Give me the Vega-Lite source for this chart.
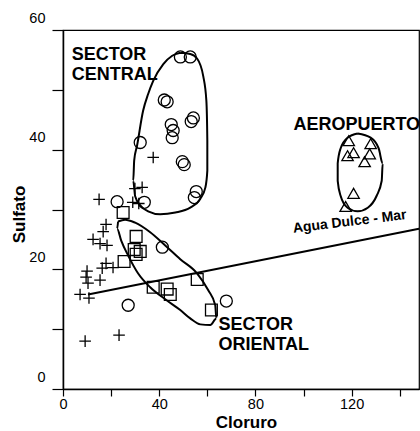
{
  "$schema": "https://vega.github.io/schema/vega-lite/v6.json",
  "width": 356,
  "height": 359,
  "autosize": {"type": "none"},
  "padding": {"left": 63, "top": 30, "right": 1, "bottom": 42},
  "background": "white",
  "config": {
    "view": {"stroke": "#000", "strokeWidth": 1.2},
    "font": "Liberation Sans",
    "axis": {
      "grid": false,
      "domainColor": "#000",
      "domainWidth": 1.5,
      "tickColor": "#000",
      "tickWidth": 1.2,
      "labelColor": "#000",
      "labelFont": "Liberation Sans",
      "labelFontSize": 14.5,
      "labelFlush": false,
      "labelOverlap": false,
      "titleColor": "#000",
      "titleFont": "Liberation Sans",
      "titleFontSize": 17,
      "titleFontWeight": "bold"
    }
  },
  "datasets": {
    "pts": [
      {"g": "circle", "x": 48.8, "y": 55.5},
      {"g": "circle", "x": 52.9, "y": 55.5},
      {"g": "circle", "x": 42.1, "y": 48.3},
      {"g": "circle", "x": 43.3, "y": 48.0},
      {"g": "circle", "x": 54.2, "y": 45.3},
      {"g": "circle", "x": 53.3, "y": 44.7},
      {"g": "circle", "x": 45.0, "y": 44.2},
      {"g": "circle", "x": 45.8, "y": 43.2},
      {"g": "circle", "x": 45.4, "y": 42.0},
      {"g": "circle", "x": 32.1, "y": 41.2},
      {"g": "circle", "x": 49.6, "y": 38.0},
      {"g": "circle", "x": 50.4, "y": 37.5},
      {"g": "circle", "x": 55.4, "y": 33.0},
      {"g": "circle", "x": 54.6, "y": 32.0},
      {"g": "circle", "x": 22.5, "y": 31.3},
      {"g": "circle", "x": 33.8, "y": 31.2},
      {"g": "circle", "x": 41.3, "y": 23.7},
      {"g": "circle", "x": 27.1, "y": 14.0},
      {"g": "circle", "x": 67.9, "y": 14.7},
      {"g": "square", "x": 25.0, "y": 29.5},
      {"g": "square", "x": 30.4, "y": 25.5},
      {"g": "square", "x": 29.6, "y": 23.3},
      {"g": "square", "x": 32.1, "y": 23.0},
      {"g": "square", "x": 30.4, "y": 22.5},
      {"g": "square", "x": 25.4, "y": 21.3},
      {"g": "square", "x": 37.5, "y": 17.0},
      {"g": "square", "x": 43.3, "y": 16.7},
      {"g": "square", "x": 44.6, "y": 15.8},
      {"g": "square", "x": 55.8, "y": 18.3},
      {"g": "square", "x": 61.7, "y": 13.2},
      {"g": "plus", "x": 37.5, "y": 38.7},
      {"g": "plus", "x": 29.9, "y": 33.5},
      {"g": "plus", "x": 32.9, "y": 33.7},
      {"g": "plus", "x": 29.0, "y": 31.2},
      {"g": "plus", "x": 15.0, "y": 31.7},
      {"g": "plus", "x": 31.5, "y": 31.0},
      {"g": "plus", "x": 17.9, "y": 27.5},
      {"g": "plus", "x": 16.7, "y": 26.3},
      {"g": "plus", "x": 12.5, "y": 25.0},
      {"g": "plus", "x": 15.4, "y": 24.3},
      {"g": "plus", "x": 18.3, "y": 24.0},
      {"g": "plus", "x": 17.9, "y": 21.0},
      {"g": "plus", "x": 20.8, "y": 20.3},
      {"g": "plus", "x": 16.3, "y": 20.2},
      {"g": "plus", "x": 10.0, "y": 19.7},
      {"g": "plus", "x": 9.6, "y": 18.7},
      {"g": "plus", "x": 10.4, "y": 17.7},
      {"g": "plus", "x": 15.4, "y": 18.2},
      {"g": "plus", "x": 7.1, "y": 15.8},
      {"g": "plus", "x": 10.8, "y": 15.2},
      {"g": "plus", "x": 9.2, "y": 8.0},
      {"g": "plus", "x": 23.3, "y": 9.0},
      {"g": "triangle", "x": 118.8, "y": 41.5},
      {"g": "triangle", "x": 127.9, "y": 41.0},
      {"g": "triangle", "x": 120.8, "y": 39.5},
      {"g": "triangle", "x": 118.3, "y": 39.0},
      {"g": "triangle", "x": 127.5, "y": 39.3},
      {"g": "triangle", "x": 125.4, "y": 38.0},
      {"g": "triangle", "x": 120.8, "y": 32.7},
      {"g": "triangle", "x": 117.5, "y": 30.5}
    ],
    "outlines": [
      {"grp": "central", "o": 0, "x": 48.75, "y": 56.2},
      {"grp": "central", "o": 1, "x": 52.9, "y": 56.0},
      {"grp": "central", "o": 2, "x": 55.8, "y": 55.2},
      {"grp": "central", "o": 3, "x": 58.3, "y": 52.3},
      {"grp": "central", "o": 4, "x": 59.6, "y": 48.2},
      {"grp": "central", "o": 5, "x": 60.0, "y": 41.5},
      {"grp": "central", "o": 6, "x": 60.0, "y": 36.5},
      {"grp": "central", "o": 7, "x": 59.2, "y": 33.7},
      {"grp": "central", "o": 8, "x": 57.1, "y": 31.8},
      {"grp": "central", "o": 9, "x": 52.9, "y": 30.3},
      {"grp": "central", "o": 10, "x": 46.7, "y": 29.5},
      {"grp": "central", "o": 11, "x": 40.4, "y": 29.2},
      {"grp": "central", "o": 12, "x": 35.4, "y": 29.7},
      {"grp": "central", "o": 13, "x": 32.1, "y": 30.7},
      {"grp": "central", "o": 14, "x": 30.0, "y": 32.2},
      {"grp": "central", "o": 15, "x": 29.2, "y": 34.8},
      {"grp": "central", "o": 16, "x": 29.6, "y": 38.2},
      {"grp": "central", "o": 17, "x": 30.8, "y": 40.7},
      {"grp": "central", "o": 18, "x": 33.3, "y": 46.5},
      {"grp": "central", "o": 19, "x": 35.4, "y": 49.3},
      {"grp": "central", "o": 20, "x": 37.5, "y": 51.5},
      {"grp": "central", "o": 21, "x": 41.7, "y": 54.3},
      {"grp": "central", "o": 22, "x": 45.4, "y": 55.7},
      {"grp": "central", "o": 23, "x": 48.75, "y": 56.2},
      {"grp": "oriental", "o": 0, "x": 22.9, "y": 28.0},
      {"grp": "oriental", "o": 1, "x": 25.8, "y": 28.3},
      {"grp": "oriental", "o": 2, "x": 30.0, "y": 27.8},
      {"grp": "oriental", "o": 3, "x": 36.25, "y": 26.2},
      {"grp": "oriental", "o": 4, "x": 42.5, "y": 24.0},
      {"grp": "oriental", "o": 5, "x": 48.75, "y": 21.7},
      {"grp": "oriental", "o": 6, "x": 55.8, "y": 19.3},
      {"grp": "oriental", "o": 7, "x": 60.4, "y": 16.5},
      {"grp": "oriental", "o": 8, "x": 63.3, "y": 14.0},
      {"grp": "oriental", "o": 9, "x": 63.75, "y": 11.8},
      {"grp": "oriental", "o": 10, "x": 61.25, "y": 10.7},
      {"grp": "oriental", "o": 11, "x": 57.1, "y": 10.8},
      {"grp": "oriental", "o": 12, "x": 52.9, "y": 11.8},
      {"grp": "oriental", "o": 13, "x": 48.75, "y": 13.2},
      {"grp": "oriental", "o": 14, "x": 42.5, "y": 15.0},
      {"grp": "oriental", "o": 15, "x": 36.25, "y": 17.0},
      {"grp": "oriental", "o": 16, "x": 31.25, "y": 19.3},
      {"grp": "oriental", "o": 17, "x": 27.1, "y": 22.3},
      {"grp": "oriental", "o": 18, "x": 24.2, "y": 24.8},
      {"grp": "oriental", "o": 19, "x": 22.5, "y": 26.8},
      {"grp": "oriental", "o": 20, "x": 22.9, "y": 28.0},
      {"grp": "aero", "o": 0, "x": 122.5, "y": 42.7},
      {"grp": "aero", "o": 1, "x": 127.9, "y": 42.0},
      {"grp": "aero", "o": 2, "x": 131.25, "y": 40.2},
      {"grp": "aero", "o": 3, "x": 132.9, "y": 37.7},
      {"grp": "aero", "o": 4, "x": 132.5, "y": 34.8},
      {"grp": "aero", "o": 5, "x": 130.4, "y": 32.3},
      {"grp": "aero", "o": 6, "x": 126.7, "y": 30.3},
      {"grp": "aero", "o": 7, "x": 122.5, "y": 29.7},
      {"grp": "aero", "o": 8, "x": 118.3, "y": 30.3},
      {"grp": "aero", "o": 9, "x": 115.4, "y": 32.3},
      {"grp": "aero", "o": 10, "x": 114.2, "y": 34.8},
      {"grp": "aero", "o": 11, "x": 114.2, "y": 37.7},
      {"grp": "aero", "o": 12, "x": 115.4, "y": 40.2},
      {"grp": "aero", "o": 13, "x": 118.3, "y": 42.0},
      {"grp": "aero", "o": 14, "x": 122.5, "y": 42.7},
      {"grp": "mix", "o": 0, "x": 10.4, "y": 15.8},
      {"grp": "mix", "o": 1, "x": 148, "y": 26.8}
    ],
    "labels": [
      {"t": ["SECTOR", "CENTRAL"], "x": 3.6, "y": 57.4},
      {"t": ["AEROPUERTO"], "x": 95.8, "y": 45.6},
      {"t": ["SECTOR", "ORIENTAL"], "x": 64.6, "y": 12.2}
    ],
    "rot": [
      {"t": "Agua Dulce - Mar", "x": 95.8, "y": 26.1}
    ]
  },
  "layer": [
    {
      "data": {"name": "outlines"},
      "mark": {"type": "line", "color": "#000", "strokeWidth": 2, "interpolate": "monotone"},
      "encoding": {
        "x": {"field": "x", "type": "quantitative", "scale": {"domain": [0, 148], "nice": false, "zero": false},
          "axis": {"values": [0, 20, 40, 60, 80, 100, 120, 140], "labelExpr": "datum.value % 40 === 0 ? datum.label : ''", "tickSize": 7, "labelPadding": 1, "title": "Cloruro", "titleX": 183, "titleY": 33, "titleAlign": "center", "titleBaseline": "middle"}},
        "y": {"field": "y", "type": "quantitative", "scale": {"domain": [0, 60], "nice": false, "zero": false},
          "axis": {"values": [0, 10, 20, 30, 40, 50, 60], "labelExpr": "datum.value % 20 === 0 ? datum.label : ''", "tickSize": 11, "labelPadding": 7, "labelOffset": -12, "title": "Sulfato", "titleX": -44, "titleY": 184, "titleAlign": "center", "titleBaseline": "middle", "titleAngle": -90}},
        "detail": {"field": "grp"},
        "order": {"field": "o", "type": "quantitative"}
      }
    },
    {
      "data": {"name": "pts"},
      "mark": {"type": "point", "filled": false, "strokeWidth": 1.3, "color": "#000", "opacity": 1},
      "encoding": {
        "x": {"field": "x", "type": "quantitative"},
        "y": {"field": "y", "type": "quantitative"},
        "shape": {"field": "g", "type": "nominal", "legend": null,
          "scale": {"domain": ["circle", "square", "plus", "triangle"], "range": ["circle", "square", "M-1,0H1M0,-1V1", "triangle-up"]}},
        "size": {"field": "g", "type": "nominal", "legend": null,
          "scale": {"domain": ["circle", "square", "plus", "triangle"], "range": [144, 130, 130, 130]}}
      }
    },
    {
      "data": {"name": "labels"},
      "mark": {"type": "text", "align": "left", "baseline": "top", "fontWeight": "bold", "fontSize": 18, "lineHeight": 20, "color": "#000", "font": "Liberation Sans"},
      "encoding": {
        "x": {"field": "x", "type": "quantitative"},
        "y": {"field": "y", "type": "quantitative"},
        "text": {"field": "t"}
      }
    },
    {
      "data": {"name": "rot"},
      "mark": {"type": "text", "align": "left", "baseline": "alphabetic", "fontWeight": "bold", "fontSize": 14, "angle": -7, "color": "#000", "font": "Liberation Sans"},
      "encoding": {
        "x": {"field": "x", "type": "quantitative"},
        "y": {"field": "y", "type": "quantitative"},
        "text": {"field": "t"}
      }
    }
  ]
}
